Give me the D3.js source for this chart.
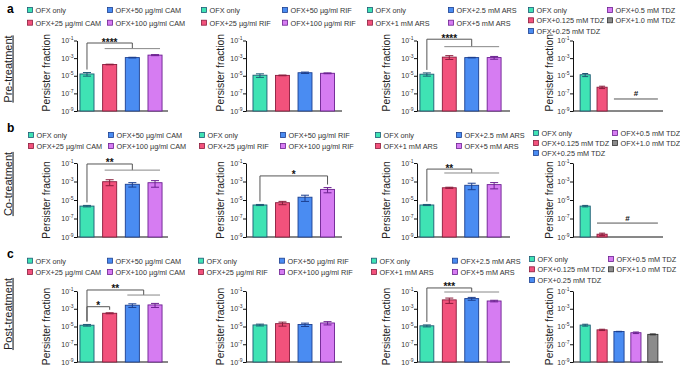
<!DOCTYPE html>
<html>
<head>
<meta charset="utf-8">
<script src="https://cdn.jsdelivr.net/npm/d3@7"></script>
<style>
  body { margin: 0; background: #fff; }
  svg { display: block; font-family: "Liberation Sans", Arial, sans-serif; }
</style>
</head>
<body>
<div id="fig"></div>
<script>
// ---- data ----
const rowLetters = ['a', 'b', 'c'];
const rowTitles = ['Pre-treatment', 'Co-treatment', 'Post-treatment'];

const camLabels = ['OFX only', 'OFX+25 µg/ml CAM', 'OFX+50 µg/ml CAM', 'OFX+100 µg/ml CAM'];
const rifLabels = ['OFX only', 'OFX+25 µg/ml RIF', 'OFX+50 µg/ml RIF', 'OFX+100 µg/ml RIF'];
const arsLabels = ['OFX only', 'OFX+1 mM ARS', 'OFX+2.5 mM ARS', 'OFX+5 mM ARS'];
const tdzLabels = ['OFX only', 'OFX+0.125 mM TDZ', 'OFX+0.25 mM TDZ', 'OFX+0.5 mM TDZ', 'OFX+1.0 mM TDZ'];

const yTicks = [1e-1, 1e-3, 1e-5, 1e-7, 1e-9];
const tickExp = ['-1', '-3', '-5', '-7', '-9'];

// persister fraction, mean and SEM (null = below detection)
const preCAM    = [1.6e-5, 1.9e-4, 1.15e-3, 2.2e-3];
const preCAMsem = [0.7e-5, 0.15e-4, 0.1e-3, 0.3e-3];
const preRIF    = [1.15e-5, 1.1e-5, 2.2e-5, 1.9e-5];
const preRIFsem = [0.5e-5, 0.1e-5, 0.4e-5, 0.2e-5];
const preARS    = [1.5e-5, 1.3e-3, 1.15e-3, 1.15e-3];
const preARSsem = [0.6e-5, 0.6e-3, 0.08e-3, 0.4e-3];
const preTDZ    = [1.3e-5, 5e-7, null, null, null];
const preTDZsem = [0.5e-5, 1.5e-7, null, null, null];

const coCAM    = [2.2e-6, 9.5e-4, 5e-4, 7.4e-4];
const coCAMsem = [0.4e-6, 6e-4, 2.5e-4, 5e-4];
const coRIF    = [2.9e-6, 5.1e-6, 2e-5, 1.4e-4];
const coRIFsem = [0.4e-6, 2e-6, 1.3e-5, 0.8e-4];
const coARS    = [2.9e-6, 2.1e-4, 3.9e-4, 4.6e-4];
const coARSsem = [0.4e-6, 0.3e-4, 2.6e-4, 3e-4];
const coTDZ    = [2.2e-6, 2e-9, null, null, null];
const coTDZsem = [0.4e-6, 0.6e-9, null, null, null];

const postCAM    = [1.4e-5, 3.1e-4, 2.5e-3, 2.7e-3];
const postCAMsem = [0.3e-5, 0.4e-4, 1.1e-3, 1.3e-3];
const postRIF    = [1.5e-5, 2.1e-5, 1.7e-5, 2.5e-5];
const postRIFsem = [0.35e-5, 1e-5, 0.7e-5, 1e-5];
const postARS    = [1.2e-5, 1e-2, 1.4e-2, 7.5e-3];
const postARSsem = [0.3e-5, 0.6e-2, 0.5e-2, 0.15e-2];
const postTDZ    = [1.45e-5, 4.2e-6, 2.7e-6, 2e-6, 1.3e-6];
const postTDZsem = [0.35e-5, 0.7e-6, 0.15e-6, 0.4e-6, 0.15e-6];

// significance marks: from bar, to bar (or [first,last] group), level(s), label
const preBrackets  = [[{ from: 0, to: [1, 3], level: 5.2e-2, level2: 1.2e-2, label: '****' }], [],
                      [{ from: 0, to: [1, 3], level: 1.4e-1, level2: 2e-2, label: '****' }],
                      [{ hash: [2, 4], level: 2.3e-8, label: '#' }]];
const coBrackets   = [[{ from: 0, to: [1, 3], level: 7.8e-2, level2: 1.7e-2, label: '**' }],
                      [{ from: 0, to: 3, level: 4e-3, label: '*' }],
                      [{ from: 0, to: [1, 3], level: 2.2e-2, level2: 8.3e-3, label: '**' }],
                      [{ hash: [1, 4], level: 3.2e-8, label: '#' }]];
const postBrackets = [[{ from: 0, to: [2, 3], level: 1.3e-1, level2: 3.5e-2, label: '**' },
                       { from: 0, to: 1, level: 1.7e-3, label: '*' }], [],
                      [{ from: 0, to: [1, 3], level: 2.2e-1, level2: 7.7e-2, label: '***' }], []];

const fills   = ['#3fe3b4', '#f2527c', '#4a8cf2', '#d67cf2', '#8c8c8c'];
const strokes = ['#1d5a74', '#8a1c3c', '#1c3f8f', '#6b2090', '#333333'];

// ---- layout ----
const width = 680, height = 366;
const rowsY = [
  { top: 40.5, bottom: 111, leg: [10, 22.7], leg4: [10, 20.3, 31], title: 69, letter: 13 },
  { top: 163, bottom: 237, leg: [135, 146], leg4: [133, 143, 153], title: 184, letter: 132 },
  { top: 291, bottom: 362, leg: [260.7, 272], leg4: [259, 269.3, 280], title: 314, letter: 258 }
];
const cols = [
  { x0: 77, x1: 165, xEnd: 168, pi: 0.38, po: 0.13, labX: 46, legX: [27, 107] },
  { x0: 246, x1: 341.5, xEnd: 342, pi: 0.38, po: 0.31, labX: 220, legX: [201, 282] },
  { x0: 417, x1: 504, xEnd: 510, pi: 0.38, po: 0.13, labX: 386, legX: [367, 448] },
  { x0: 573, x1: 665, xEnd: 663, pi: 0.4, po: 0.42, labX: 549, legX: [528, 607] }
];
const legShift = [[0, 0, 0, 0], [1, -2, 8, 5], [0, -3, 4, 1]];

const svg = d3.select('#fig').append('svg')
  .attr('width', width).attr('height', height)
  .attr('viewBox', [0, 0, width, height]);

const allData = [
  [[preCAM, preCAMsem], [preRIF, preRIFsem], [preARS, preARSsem], [preTDZ, preTDZsem]],
  [[coCAM, coCAMsem], [coRIF, coRIFsem], [coARS, coARSsem], [coTDZ, coTDZsem]],
  [[postCAM, postCAMsem], [postRIF, postRIFsem], [postARS, postARSsem], [postTDZ, postTDZsem]]
];
const allBrackets = [preBrackets, coBrackets, postBrackets];
const allLabels = [camLabels, rifLabels, arsLabels, tdzLabels];

rowsY.forEach((r, ri) => {
  // panel letter + row title
  svg.append('text').attr('x', 7).attr('y', r.letter)
    .attr('font-size', 12).attr('font-weight', 'bold').text(rowLetters[ri]);
  svg.append('text')
    .attr('transform', `translate(11.5,${r.title}) rotate(-90)`)
    .attr('text-anchor', 'middle').attr('font-size', 11).attr('fill', '#222')
    .attr('text-decoration', 'underline')
    .text(rowTitles[ri]);

  cols.forEach((c, ci) => {
    const g = svg.append('g');
    const labels = allLabels[ci];
    const [means, sems] = allData[ri][ci];
    const n = means.length;

    const x = d3.scaleBand().domain(d3.range(n)).range([c.x0, c.x1])
      .paddingInner(c.pi).paddingOuter(c.po);
    const y = d3.scaleLog().domain([1e-9, 1e-1]).range([r.bottom, r.top]);
    const bw = x.bandwidth();
    const cx = i => x(i) + bw / 2;
    const cap = n === 5 ? 6 : 8;

    // legend
    const lx = c.legX.map(v => v + legShift[ri][ci]);
    const rowsPerCol = n === 5 ? 3 : 2;
    const ly = n === 5 ? r.leg4 : r.leg;
    const leg = g.append('g').selectAll('g').data(labels).join('g')
      .attr('transform', (d, i) => `translate(${lx[Math.floor(i / rowsPerCol)]},${ly[i % rowsPerCol]})`);
    leg.append('rect').attr('x', 0.5).attr('y', -2.5).attr('width', 5).attr('height', 5)
      .attr('fill', (d, i) => fills[i]).attr('stroke', (d, i) => strokes[i]).attr('stroke-width', 0.8);
    leg.append('text').attr('x', 8.5).attr('y', 2.8).attr('font-size', 7.3).attr('fill', '#333').text(d => d);

    // y axis
    g.append('g').attr('transform', `translate(${c.x0},0)`)
      .call(d3.axisLeft(y).tickValues(yTicks).tickSize(3).tickSizeOuter(0).tickFormat(''))
      .call(a => a.selectAll('path,line').attr('stroke', '#111'));
    const tl = g.append('g').selectAll('text').data(yTicks).join('text')
      .attr('x', c.x0 - 3.5).attr('y', d => y(d) + 2.5)
      .attr('text-anchor', 'end').attr('font-size', 7).attr('fill', '#333');
    tl.append('tspan').text('10');
    tl.append('tspan').attr('dy', -3).attr('font-size', 5).text((d, i) => tickExp[i]);

    // x axis
    g.append('line').attr('x1', c.x0).attr('x2', c.xEnd)
      .attr('y1', r.bottom).attr('y2', r.bottom).attr('stroke', '#111');

    // y label
    g.append('text').attr('transform', `translate(${c.labX + 4},${(r.top + r.bottom) / 2 - (ri === 0 ? 3 : 0)}) rotate(-90)`)
      .attr('text-anchor', 'middle').attr('font-size', 10.3).attr('fill', '#222')
      .text('Persister fraction');

    // bars
    const idx = d3.range(n).filter(i => means[i] != null);
    g.append('g').selectAll('rect').data(idx).join('rect')
      .attr('x', i => x(i)).attr('width', bw)
      .attr('y', i => y(means[i])).attr('height', i => r.bottom - y(means[i]))
      .attr('fill', i => fills[i]).attr('stroke', i => strokes[i]).attr('stroke-width', 0.9);

    // error bars
    const lo = i => y(Math.max(means[i] - sems[i], 1e-9));
    const hi = i => y(means[i] + sems[i]);
    const eb = g.append('g').selectAll('g').data(idx).join('g')
      .attr('stroke', i => strokes[i]).attr('stroke-width', 1);
    eb.append('line').attr('x1', cx).attr('x2', cx).attr('y1', lo).attr('y2', hi);
    eb.append('line').attr('x1', i => cx(i) - cap / 2).attr('x2', i => cx(i) + cap / 2)
      .attr('y1', hi).attr('y2', hi);
    eb.append('line').attr('x1', i => cx(i) - cap / 2).attr('x2', i => cx(i) + cap / 2)
      .attr('y1', lo).attr('y2', lo);

    // significance
    const topOf = i => y(means[i] + sems[i]) - 3;
    allBrackets[ri][ci].forEach(b => {
      const bg = g.append('g').attr('fill', 'none').attr('stroke-width', 1);
      if (b.hash) {
        const xa = x(b.hash[0]), xb = x(b.hash[1]) + bw;
        bg.append('line').attr('x1', xa).attr('x2', xb).attr('y1', y(b.level)).attr('y2', y(b.level)).attr('stroke', '#555');
        g.append('text').attr('x', (xa + xb) / 2).attr('y', y(b.level) - 2.5)
          .attr('text-anchor', 'middle').attr('font-size', 8).attr('font-weight', 'bold').attr('fill', '#111').text(b.label);
        return;
      }
      const ly1 = y(b.level);
      const xa = cx(b.from);
      let xm;
      if (Array.isArray(b.to)) {
        xm = (cx(b.to[0]) + cx(b.to[1])) / 2;
        const ly2 = y(b.level2);
        bg.append('path').attr('stroke', '#555')
          .attr('d', `M${xa},${topOf(b.from)}V${ly1}H${xm}V${ly2}`);
        bg.append('line').attr('stroke', '#888')
          .attr('x1', cx(b.to[0]) - 5).attr('x2', cx(b.to[1]) + 5).attr('y1', ly2).attr('y2', ly2);
      } else {
        xm = cx(b.to);
        bg.append('path').attr('stroke', '#555')
          .attr('d', `M${xa},${topOf(b.from)}V${ly1}H${xm}V${topOf(b.to)}`);
      }
      g.append('text').attr('x', (xa + xm) / 2).attr('y', ly1 + 2.5)
        .attr('text-anchor', 'middle').attr('font-size', 10).attr('font-weight', 'bold')
        .attr('fill', '#111').text(b.label);
    });
  });
});
</script>
</body>
</html>
